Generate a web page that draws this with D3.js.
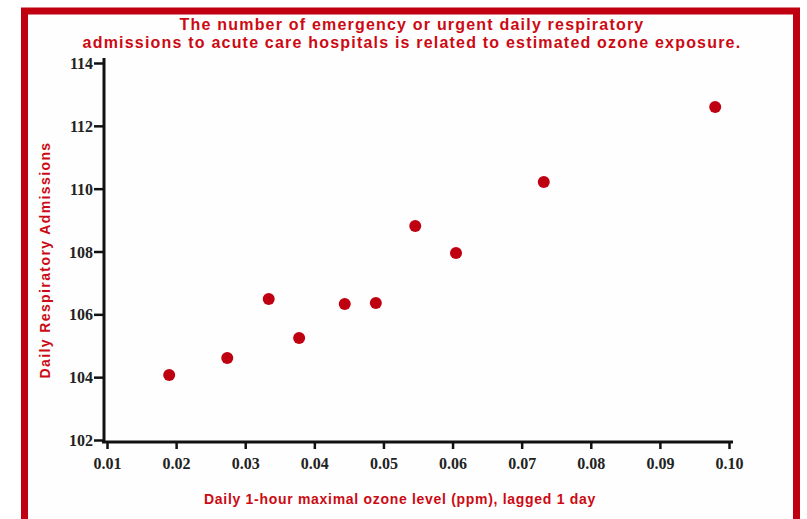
<!DOCTYPE html>
<html lang="en">
<head>
<meta charset="utf-8">
<title>Ozone exposure and respiratory admissions</title>
<script src="https://d3js.org/d3.v7.min.js"></script>
<style>
body {
	margin: 0;
	background-color: #fff;
	}
svg text.title, svg text.axlabel {
	font-family: "Liberation Sans", Arial, sans-serif;
	font-weight: bold;
	fill: #cc0a14;
	}
.axis text {
	font-family: "Liberation Serif", "Times New Roman", serif;
	font-weight: bold;
	font-size: 16px;
	fill: #222;
	}
.axis path, .axis line {
	stroke: #111;
	}
</style>
</head>
<body>
<script>

// data
var ozone = [0.0190, 0.0274, 0.0334, 0.0378, 0.0444, 0.0489, 0.0546, 0.0605, 0.0732, 0.0980];
var admissions = [104.07, 104.61, 106.49, 105.25, 106.33, 106.36, 108.81, 107.95, 110.21, 112.6];
var xTicks = [0.01, 0.02, 0.03, 0.04, 0.05, 0.06, 0.07, 0.08, 0.09, 0.10];
var yTicks = [102, 104, 106, 108, 110, 112, 114];
var titleLines = ["The number of emergency or urgent daily respiratory",
                  "admissions to acute care hospitals is related to estimated ozone exposure."];

var width = 807, height = 519;
var red = "#c00010";

var svg = d3.select("body").append("svg").attr("width", width).attr("height", height);

// red frame (bottom edge runs off the picture)
svg.append("rect")
	.attr("x", 24.5).attr("y", 11).attr("width", 772).attr("height", 530)
	.attr("fill", "#fdfefd").attr("stroke", red).attr("stroke-width", 7);

var x = d3.scaleLinear().domain([0.01, 0.10]).range([107, 729]);
var y = d3.scaleLinear().domain([102, 114]).range([440, 63]);

// title
svg.selectAll("text.title")
	.data(titleLines)
	.enter().append("text")
	.attr("class", "title")
	.attr("x", 412)
	.attr("y", function(d, i) { return 30 + i * 18; })
	.attr("text-anchor", "middle")
	.style("font-size", "16px")
	.style("letter-spacing", "1.2px")
	.text(function(d) { return d; });

// x axis
var gx = svg.append("g").attr("class", "axis")
	.attr("transform", "translate(0,442)")
	.call(d3.axisBottom(x).tickValues(xTicks).tickFormat(d3.format(".2f")).tickSize(7).tickSizeOuter(0));
gx.select(".domain").remove();
gx.append("line").attr("x1", 102).attr("x2", 733).attr("y1", 0).attr("y2", 0)
	.attr("stroke", "#111").attr("stroke-width", 3);
gx.selectAll(".tick line").attr("stroke-width", 2.5);
gx.selectAll(".tick text").attr("dy", "1.05em");

// y axis
var gy = svg.append("g").attr("class", "axis")
	.attr("transform", "translate(104,0)")
	.call(d3.axisLeft(y).tickValues(yTicks).tickSize(10).tickSizeOuter(0));
gy.select(".domain").remove();
gy.append("line").attr("x1", 0).attr("x2", 0).attr("y1", 58).attr("y2", 443)
	.attr("stroke", "#111").attr("stroke-width", 3);
gy.selectAll(".tick line").attr("stroke-width", 2.5);
gy.selectAll(".tick text").attr("x", -11).attr("dy", "0.35em");

// axis titles
svg.append("text").attr("class", "axlabel")
	.attr("x", 400).attr("y", 504)
	.attr("text-anchor", "middle")
	.style("font-size", "14px")
	.style("letter-spacing", "0.7px")
	.text("Daily 1-hour maximal ozone level (ppm), lagged 1 day");

svg.append("text").attr("class", "axlabel")
	.attr("transform", "translate(50,260) rotate(-90)")
	.attr("text-anchor", "middle")
	.style("font-size", "14px")
	.style("letter-spacing", "1.4px")
	.text("Daily Respiratory Admissions");

// points
svg.append("g").selectAll("circle")
	.data(ozone)
	.enter().append("circle")
	.attr("cx", function(d) { return x(d); })
	.attr("cy", function(d, i) { return y(admissions[i]); })
	.attr("r", 6)
	.attr("fill", "#bf0010");

</script>
</body>
</html>
